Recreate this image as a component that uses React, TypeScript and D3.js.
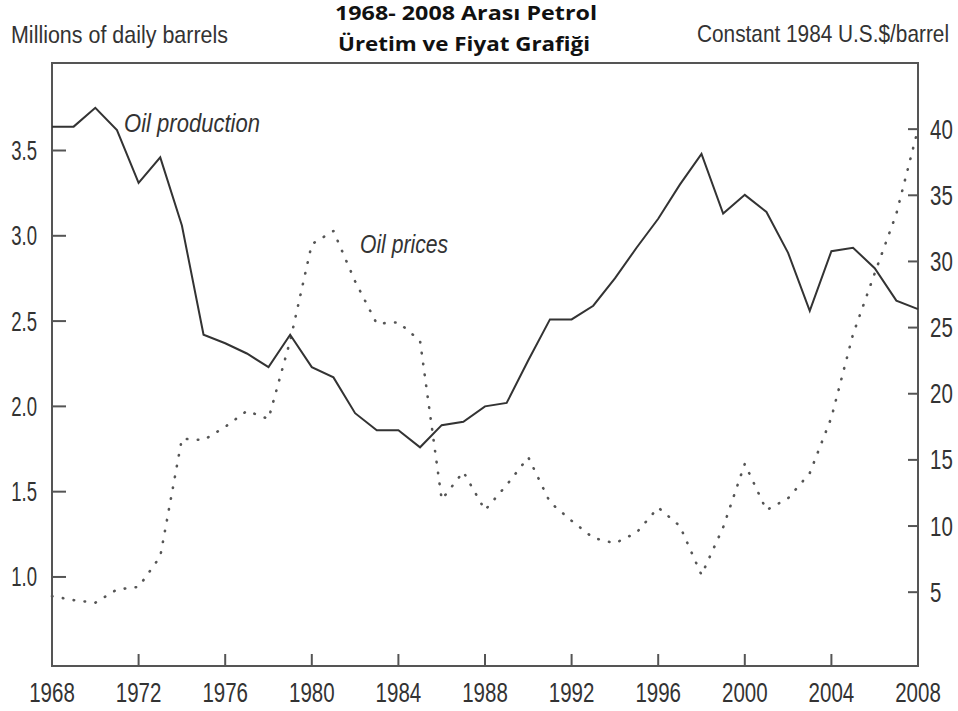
import React from 'react';
import * as d3 from 'd3';

const years = d3.range(1968, 2009);

// millions of daily barrels
const production = [
  3.64, 3.64, 3.75, 3.62, 3.31, 3.46, 3.06, 2.42, 2.37, 2.31,
  2.23, 2.42, 2.23, 2.17, 1.96, 1.86, 1.86, 1.76, 1.89, 1.91,
  2.0, 2.02, 2.27, 2.51, 2.51, 2.59, 2.75, 2.93, 3.1, 3.3,
  3.48, 3.13, 3.24, 3.14, 2.9, 2.56, 2.91, 2.93, 2.81, 2.62, 2.57
];

// constant 1984 US$ per barrel
const prices = [
  4.7, 4.4, 4.2, 5.2, 5.4, 7.7, 16.6, 16.5, 17.5, 18.7,
  18.1, 24.0, 31.3, 32.3, 28.5, 25.3, 25.4, 24.0, 12.0, 14.1,
  11.2, 13.1, 15.2, 11.8, 10.4, 9.1, 8.7, 9.5, 11.4, 10.0,
  6.3, 9.9, 14.7, 11.2, 12.1, 14.0, 18.2, 24.5, 29.1, 33.6, 40.0
];

const xTicks = [1968, 1972, 1976, 1980, 1984, 1988, 1992, 1996, 2000, 2004, 2008];
const leftTicks = [1.0, 1.5, 2.0, 2.5, 3.0, 3.5];
const rightTicks = [5, 10, 15, 20, 25, 30, 35, 40];

const W = 958;
const H = 711;
const m = { left: 52, right: 918, top: 63, bottom: 666 };

const sans = '"Liberation Sans", Arial, sans-serif';
const bold = '"Open Sans", "Liberation Sans", sans-serif';
const ink = '#333';
const axisCol = '#555';
const SQ = 0.82; // horizontal squeeze for the condensed face

// condensed look: squeeze digits to the reference widths
const labelWidth = (s: string) =>
  s.split('').reduce((w, c) => w + (c === '.' ? 3 : 11.4), 0);

function Squeezed(props: { x: number; y: number; w: number; size: number; italic?: boolean; children: string }) {
  return (
    <g transform={`translate(${props.x},${props.y}) scale(${SQ},1)`}>
      <text x={0} y={0} fontFamily={sans} fontSize={props.size} fill={ink}
        fontStyle={props.italic ? 'italic' : 'normal'}
        textLength={props.w / SQ} lengthAdjust="spacingAndGlyphs">{props.children}</text>
    </g>
  );
}

export default function App() {
  const x = d3.scaleLinear().domain([1968, 2008]).range([m.left, m.right]);
  const yL = d3.scaleLinear().domain([0.478, 4.013]).range([m.bottom, m.top]);
  const yR = d3.scaleLinear().domain([-0.58, 45.0]).range([m.bottom, m.top]);

  const prodLine = d3.line<number>().x((_, i) => x(years[i])).y((d) => yL(d));
  const priceLine = d3.line<number>().x((_, i) => x(years[i])).y((d) => yR(d));

  return (
    <svg width={W} height={H} style={{ position: 'absolute', left: 0, top: 0, background: '#fff' }}>
      <rect width={W} height={H} fill="#fff" />

      {/* titles */}
      <text x={335} y={20} fontFamily={bold} fontWeight="bold" fontSize={20} fill="#111"
        textLength={262} lengthAdjust="spacingAndGlyphs">1968- 2008 Arası Petrol</text>
      <text x={338} y={51} fontFamily={bold} fontWeight="bold" fontSize={20} fill="#111"
        textLength={252} lengthAdjust="spacingAndGlyphs">Üretim ve Fiyat Grafiği</text>

      <Squeezed x={11} y={43} w={217} size={24}>Millions of daily barrels</Squeezed>
      <Squeezed x={697} y={42} w={252} size={24}>Constant 1984 U.S.$/barrel</Squeezed>

      {/* frame */}
      <rect x={m.left} y={m.top} width={m.right - m.left} height={m.bottom - m.top}
        fill="none" stroke={axisCol} strokeWidth={2} />

      {/* x ticks */}
      {xTicks.map((t) => {
        const s = String(t);
        return (
          <g key={t}>
            {t > 1968 && t < 2008 && (
              <line x1={x(t)} x2={x(t)} y1={m.bottom} y2={m.bottom - 12} stroke={axisCol} strokeWidth={2} />
            )}
            <Squeezed x={x(t) - labelWidth(s) / 2} y={702} w={labelWidth(s)} size={27}>{s}</Squeezed>
          </g>
        );
      })}

      {/* left ticks */}
      {leftTicks.map((t) => {
        const s = t.toFixed(1);
        return (
          <g key={t}>
            <line x1={m.left} x2={m.left + 14} y1={yL(t)} y2={yL(t)} stroke={axisCol} strokeWidth={2} />
            <Squeezed x={37 - labelWidth(s)} y={yL(t) + 9.5} w={labelWidth(s)} size={27}>{s}</Squeezed>
          </g>
        );
      })}

      {/* right ticks */}
      {rightTicks.map((t) => {
        const s = String(t);
        return (
          <g key={t}>
            <line x1={m.right} x2={m.right - 10} y1={yR(t)} y2={yR(t)} stroke={axisCol} strokeWidth={2} />
            <Squeezed x={930} y={yR(t) + 9.5} w={labelWidth(s)} size={27}>{s}</Squeezed>
          </g>
        );
      })}

      {/* series */}
      <path d={priceLine(prices) || ''} fill="none" stroke="#555" strokeWidth={2.6}
        strokeDasharray="0.5 10.5" strokeLinecap="round" strokeLinejoin="round" />
      <path d={prodLine(production) || ''} fill="none" stroke={ink} strokeWidth={2}
        strokeLinejoin="miter" />

      {/* labels */}
      <Squeezed x={124} y={132} w={136} size={25} italic>Oil production</Squeezed>
      <Squeezed x={360} y={253} w={88} size={25} italic>Oil prices</Squeezed>
    </svg>
  );
}
